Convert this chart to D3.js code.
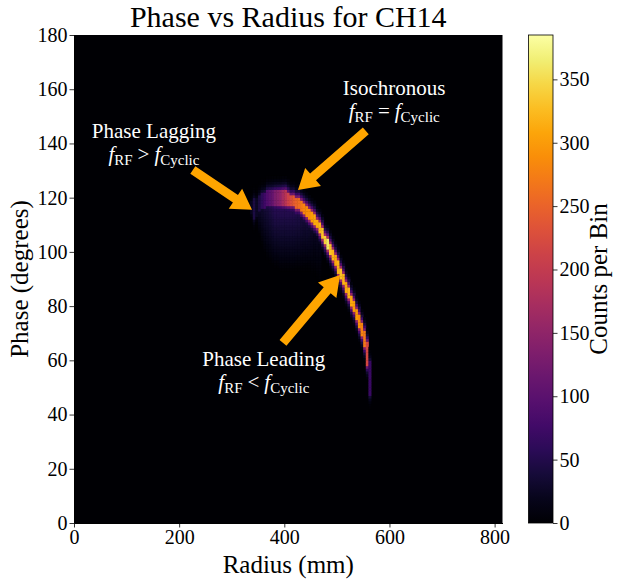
<!DOCTYPE html>
<html>
<head>
<meta charset="utf-8">
<script src="https://cdn.jsdelivr.net/npm/d3@7.9.0/dist/d3.min.js"></script>
<style>
  body { margin: 0; background: #fff; }
  svg text { font-family: 'Liberation Serif', 'Times New Roman', serif; }
</style>
</head>
<body>
<svg id="chart" width="617" height="581"></svg>
<script>
// histogram bins (radius in mm, phase in degrees)
const radiusStep = 5;
const phaseStep = 1;
const radiusEdges = [335, 340, 345, 350, 355, 360, 365, 370, 375, 380, 385, 390, 395, 400, 405, 410,
  415, 420, 425, 430, 435, 440, 445, 450, 455, 460, 465, 470, 475, 480, 485, 490, 495, 500, 505,
  510, 515, 520, 525, 530, 535, 540, 545, 550, 555, 560];
// bright ridge in each radius column: phase range and counts
const ridgeLow = [114, 112, 113, 115, 116, 116, 117, 117, 117, 117, 117, 117, 117, 117, 117, 117,
  117, 116, 116, 115, 114, 113, 112, 111, 110, 109, 107, 105, 103, 101, 99, 97, 95, 92, 90,
  88, 85, 83, 80, 78, 75, 72, 69, 65, 58, 47];
const ridgeHigh = [119, 120, 120, 121, 122, 122, 123, 123, 123, 123, 123, 123, 123, 123, 122, 121,
  121, 120, 120, 119, 118, 117, 116, 115, 114, 112, 111, 109, 106, 105, 103, 101, 99, 97, 94,
  92, 89, 87, 84, 82, 79, 77, 74, 71, 67, 60];
const ridgePeak = [20, 45, 25, 45, 60, 75, 90, 100, 110, 130, 140, 150, 170, 190, 210, 225,
  240, 250, 260, 270, 280, 290, 290, 300, 310, 310, 320, 330, 340, 360, 330, 320, 310, 320, 330,
  320, 310, 320, 310, 300, 300, 290, 280, 270, 220, 70];
// faint spread below the upper part of the arc
const haloLow = [0, 0, 0, 106, 102, 99, 97, 96, 95, 94, 94, 93, 93, 93, 93, 93,
  93, 93, 93, 93, 93, 93, 93, 92, 91, 90, 88, 0, 0, 0, 0, 0, 0, 0, 0,
  0, 0, 0, 0, 0, 0, 0, 0, 0, 0, 0];
const haloLevel = [0, 0, 0, 25, 30, 35, 40, 45, 50, 55, 55, 55, 55, 55, 55, 55,
  55, 50, 50, 45, 40, 40, 35, 30, 25, 25, 20, 0, 0, 0, 0, 0, 0, 0, 0,
  0, 0, 0, 0, 0, 0, 0, 0, 0, 0, 0];
// share of the ridge counts 1, 2, 3... degrees outside the ridge
const fringe = [0.5, 0.27, 0.14, 0.07, 0.03];

const xTicks = [0, 200, 400, 600, 800];
const yTicks = [0, 20, 40, 60, 80, 100, 120, 140, 160, 180];
const cTicks = [0, 50, 100, 150, 200, 250, 300, 350];
const countMax = 385;

const notes = [
  { title: 'Phase Lagging', op: '>', tx: 152, ty: 142, from: [226, 130.2], to: [338.6, 115.5] },
  { title: 'Isochronous', op: '=', tx: 609, ty: 158, from: [555, 144.6], to: [426, 122.8] },
  { title: 'Phase Leading', op: '<', tx: 361, ty: 58, from: [397.5, 66.4], to: [506, 91.5] },
];

const svg = d3.select('#chart');
const margin = { top: 35, left: 74, right: 502.5, bottom: 523 };

const x = d3.scaleLinear().domain([0, 815]).range([margin.left, margin.right]);
const y = d3.scaleLinear().domain([0, 180]).range([margin.bottom, margin.top]);
const color = d3.scaleSequential(d3.interpolateInferno).domain([0, countMax]);

// build cells
const cells = [];
radiusEdges.forEach((r, i) => {
  const lo = ridgeLow[i], hi = ridgeHigh[i], peak = ridgePeak[i];
  for (let p = 30; p < 140; p += phaseStep) {
    let v = 0;
    if (p >= lo && p < hi) v = peak;
    else {
      const d = p < lo ? lo - p : p - hi + 1;
      if (d <= fringe.length) v = peak * fringe[d - 1];
    }
    if (haloLevel[i] && p >= haloLow[i] && p < lo) {
      v = Math.max(v, haloLevel[i] * (p - haloLow[i] + 1) / (lo - haloLow[i]));
    }
    if (v > 0.5) cells.push({ r, p, v });
  }
});

// background of the image
svg.append('rect')
  .attr('x', x(0)).attr('y', y(180))
  .attr('width', x(815) - x(0)).attr('height', y(0) - y(180))
  .attr('fill', color(0));

svg.append('g')
  .selectAll('rect')
  .data(cells)
  .join('rect')
  .attr('x', d => x(d.r))
  .attr('y', d => y(d.p + phaseStep))
  .attr('width', d => x(d.r + radiusStep) - x(d.r) + 0.4)
  .attr('height', d => y(d.p) - y(d.p + phaseStep) + 0.4)
  .attr('fill', d => color(d.v));

// axes
const xAxis = svg.append('g')
  .attr('transform', `translate(0, ${margin.bottom})`)
  .call(d3.axisBottom(x).tickValues(xTicks).tickSize(4.5).tickSizeOuter(0).tickPadding(2));
const yAxis = svg.append('g')
  .attr('transform', `translate(${margin.left}, 0)`)
  .call(d3.axisLeft(y).tickValues(yTicks).tickSize(4.5).tickSizeOuter(0).tickPadding(2));
[xAxis, yAxis].forEach(g => {
  g.select('.domain').attr('stroke', '#000');
  g.selectAll('.tick line').attr('stroke', '#000').attr('stroke-width', 0.8);
  g.selectAll('.tick text').attr('font-size', 20).attr('fill', '#000')
    .attr('font-family', "'Liberation Serif', 'Times New Roman', serif");
});

svg.append('text')
  .attr('x', (margin.left + margin.right) / 2).attr('y', 27)
  .attr('text-anchor', 'middle').attr('font-size', 30)
  .text('Phase vs Radius for CH14');

svg.append('text')
  .attr('x', (margin.left + margin.right) / 2).attr('y', 573)
  .attr('text-anchor', 'middle').attr('font-size', 25)
  .text('Radius (mm)');

svg.append('text')
  .attr('transform', `translate(28, ${(margin.top + margin.bottom) / 2}) rotate(-90)`)
  .attr('text-anchor', 'middle').attr('font-size', 25)
  .text('Phase (degrees)');

// annotations: arrows first, then text
const arrowColor = '#ffa500';
function arrowPath(from, to) {
  const x0 = x(from[0]), y0 = y(from[1]), x1 = x(to[0]), y1 = y(to[1]);
  const len = Math.hypot(x1 - x0, y1 - y0);
  const ux = (x1 - x0) / len, uy = (y1 - y0) / len;
  const nx = -uy, ny = ux;
  const sw = 4.5, hw = 12, hl = 20;
  const bx = x1 - ux * hl, by = y1 - uy * hl;
  const pts = [
    [x0 + nx * sw, y0 + ny * sw],
    [bx + nx * sw, by + ny * sw],
    [bx + nx * hw, by + ny * hw],
    [x1, y1],
    [bx - nx * hw, by - ny * hw],
    [bx - nx * sw, by - ny * sw],
    [x0 - nx * sw, y0 - ny * sw],
  ];
  return 'M' + pts.map(p => p.join(',')).join('L') + 'Z';
}

svg.append('g')
  .selectAll('path')
  .data(notes)
  .join('path')
  .attr('d', d => arrowPath(d.from, d.to))
  .attr('fill', arrowColor);

const noteText = svg.append('g')
  .selectAll('g')
  .data(notes)
  .join('g')
  .attr('transform', d => `translate(${x(d.tx)}, ${y(d.ty)})`)
  .attr('fill', '#fff');

noteText.append('text')
  .attr('text-anchor', 'middle').attr('font-size', 21)
  .text(d => d.title);

noteText.append('text')
  .attr('text-anchor', 'middle').attr('font-size', 21).attr('y', 23)
  .each(function (d) {
    const t = d3.select(this);
    t.append('tspan').attr('font-style', 'italic').text('f');
    t.append('tspan').attr('font-size', 15).attr('dy', 4).text('RF');
    t.append('tspan').attr('dy', -4).attr('dx', 5).text(d.op);
    t.append('tspan').attr('dx', 5).attr('font-style', 'italic').text('f');
    t.append('tspan').attr('font-size', 15).attr('dy', 4).text('Cyclic');
  });

// colorbar
const cb = { x: 528.5, w: 24.5 };
const cScale = d3.scaleLinear().domain([0, countMax]).range([margin.bottom, margin.top]);
const defs = svg.append('defs');
const grad = defs.append('linearGradient')
  .attr('id', 'cbgrad').attr('x1', 0).attr('y1', 1).attr('x2', 0).attr('y2', 0);
d3.range(0, 1.0001, 0.05).forEach(t => {
  grad.append('stop').attr('offset', t).attr('stop-color', d3.interpolateInferno(t));
});
svg.append('rect')
  .attr('x', cb.x).attr('y', margin.top)
  .attr('width', cb.w).attr('height', margin.bottom - margin.top)
  .attr('fill', 'url(#cbgrad)')
  .attr('stroke', '#000').attr('stroke-width', 0.8);

const cAxis = svg.append('g')
  .attr('transform', `translate(${cb.x + cb.w}, 0)`)
  .call(d3.axisRight(cScale).tickValues(cTicks).tickSize(4.5).tickSizeOuter(0).tickPadding(2));
cAxis.select('.domain').remove();
cAxis.selectAll('.tick line').attr('stroke', '#000').attr('stroke-width', 0.8);
cAxis.selectAll('.tick text').attr('font-size', 20).attr('fill', '#000')
  .attr('font-family', "'Liberation Serif', 'Times New Roman', serif");

svg.append('text')
  .attr('transform', `translate(607, ${(margin.top + margin.bottom) / 2}) rotate(-90)`)
  .attr('text-anchor', 'middle').attr('font-size', 25)
  .text('Counts per Bin');
</script>
</body>
</html>
